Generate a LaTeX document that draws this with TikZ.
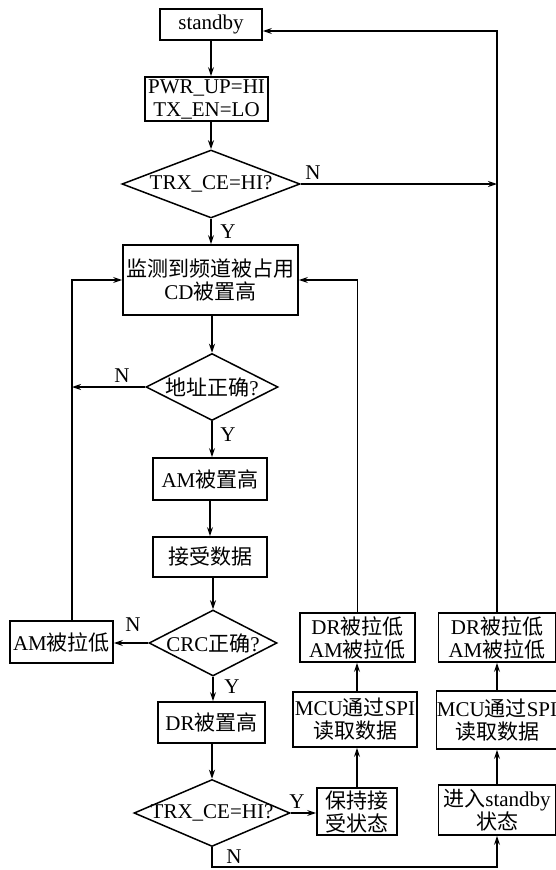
\documentclass[tikz,border=0pt]{standalone}
\usepackage{fontspec}
\setmainfont{Liberation Serif}
\newfontfamily\cjk{Noto Sans CJK SC}
\usetikzlibrary{shapes.geometric,arrows.meta}
\newcommand\zh[1]{{\cjk #1}}
\begin{document}
\begin{tikzpicture}[x=1pt,y=-1pt,
  font=\fontsize{21}{23}\selectfont,
  box/.style={draw,line width=1.8pt,inner sep=0pt,align=center},
  dec/.style={draw,diamond,line width=1.5pt,inner sep=0pt},
  arr/.style={line width=1.5pt,-{Stealth[length=9pt,width=6pt]}},
  lab/.style={inner sep=0pt,font=\fontsize{21}{22}\selectfont}
]
\useasboundingbox (0,0) rectangle (556,870);

% main column
\node[box,minimum width=102pt,minimum height=31pt] (sb) at (211,24.5) {standby};
\node[box,minimum width=123pt,minimum height=44pt] (pwr) at (206.5,99) {PWR\_UP=HI\\TX\_EN=LO};
\node[dec,minimum width=178pt,minimum height=68pt] (d1) at (211,184) {};
\node (t1) at (d1) {TRX\_CE=HI?};
\node[box,minimum width=175pt,minimum height=70pt] (cd) at (210.5,280) {\zh{监测到频道被占用}\\CD\zh{被置高}};
\node[dec,minimum width=132pt,minimum height=67pt] (d2) at (212,387) {};
\node (t2) at (d2) {\zh{地址正确}?};
\node[box,minimum width=114pt,minimum height=42pt] (am1) at (210,479) {AM\zh{被置高}};
\node[box,minimum width=114pt,minimum height=40pt] (rx) at (210,557) {\zh{接受数据}};
\node[dec,minimum width=128pt,minimum height=66pt] (d3) at (213,643) {};
\node (t3) at (d3) {CRC\zh{正确}?};
\node[box,minimum width=103pt,minimum height=42pt] (aml) at (61.5,642) {AM\zh{被拉低}};
\node[box,minimum width=107pt,minimum height=41pt] (dr) at (211.5,722.5) {DR\zh{被置高}};
\node[dec,minimum width=156pt,minimum height=67pt] (d4) at (212,813) {};
\node (t4) at (d4) {TRX\_CE=HI?};

% middle column
\node[box,minimum width=80pt,minimum height=47pt] (keep) at (357,811.5) {\zh{保持接}\\\zh{受状态}};
\node[box,minimum width=124pt,minimum height=55pt] (mcu1) at (355,719.5) {MCU\zh{通过}SPI\\\zh{读取数据}};
\node[box,minimum width=115pt,minimum height=49pt] (drl1) at (357.5,637.5) {DR\zh{被拉低}\\AM\zh{被拉低}};

% right column
\node[box,minimum width=117pt,minimum height=49pt] (drl2) at (497,637.5) {DR\zh{被拉低}\\AM\zh{被拉低}};
\node[box,minimum width=121pt,minimum height=58pt] (mcu2) at (497,720) {MCU\zh{通过}SPI\\\zh{读取数据}};
\node[box,minimum width=117pt,minimum height=50pt] (stb2) at (497,810) {\zh{进入}standby\\\zh{状态}};

\coordinate (lft) at (72,0);
\coordinate (rtop) at (497,31);
\coordinate (bot) at (212,867);

% main flow
\draw[arr] (sb.south) -- (sb.south |- pwr.north);
\draw[arr] (d1.north |- pwr.south) -- (d1.north);
\draw[arr] (d1.south) -- (d1.south |- cd.north);
\draw[arr] (d2.north |- cd.south) -- (d2.north);
\draw[arr] (d2.south) -- (d2.south |- am1.north);
\draw[arr] (am1.south) -- (am1.south |- rx.north);
\draw[arr] (d3.north |- rx.south) -- (d3.north);
\draw[arr] (d3.south) -- (d3.south |- dr.north);
\draw[arr] (d4.north |- dr.south) -- (d4.north);

% branches
\draw[arr] (d1.east) -- (d1.east -| drl2.north);
\draw[arr] (d2.west) -- (lft |- d2.west);
\draw[arr] (d3.west) -- (d3.west -| aml.east);
\draw[arr] (d4.east) -- (d4.east -| keep.west);
\draw[arr] (d4.south) -- (bot) -- (bot -| stb2.south) -- (stb2.south);

% return loops
\draw[arr] (lft |- aml.north) -- (lft |- cd.west) -- (cd.west);
\draw[arr] (drl1.north) -- (drl1.north |- cd.east) -- (cd.east);
\draw[arr] (drl2.north) -- (rtop) -- (rtop -| sb.east);

% up arrows
\draw[arr] (keep.north) -- (keep.north |- mcu1.south);
\draw[arr] (keep.north |- mcu1.north) -- (keep.north |- drl1.south);
\draw[arr] (stb2.north) -- (stb2.north |- mcu2.south);
\draw[arr] (mcu2.north) -- (mcu2.north |- drl2.south);

% labels
\node[lab] (n1) at (313,173) {N};
\node[lab] (y1) at (228,232) {Y};
\node[lab] (n2) at (122,376) {N};
\node[lab] (y2) at (228,435) {Y};
\node[lab] (n3) at (133,625) {N};
\node[lab] (y3) at (232,687) {Y};
\node[lab] (y4) at (297,802) {Y};
\node[lab] (n4) at (234,857) {N};
\end{tikzpicture}
\end{document}
